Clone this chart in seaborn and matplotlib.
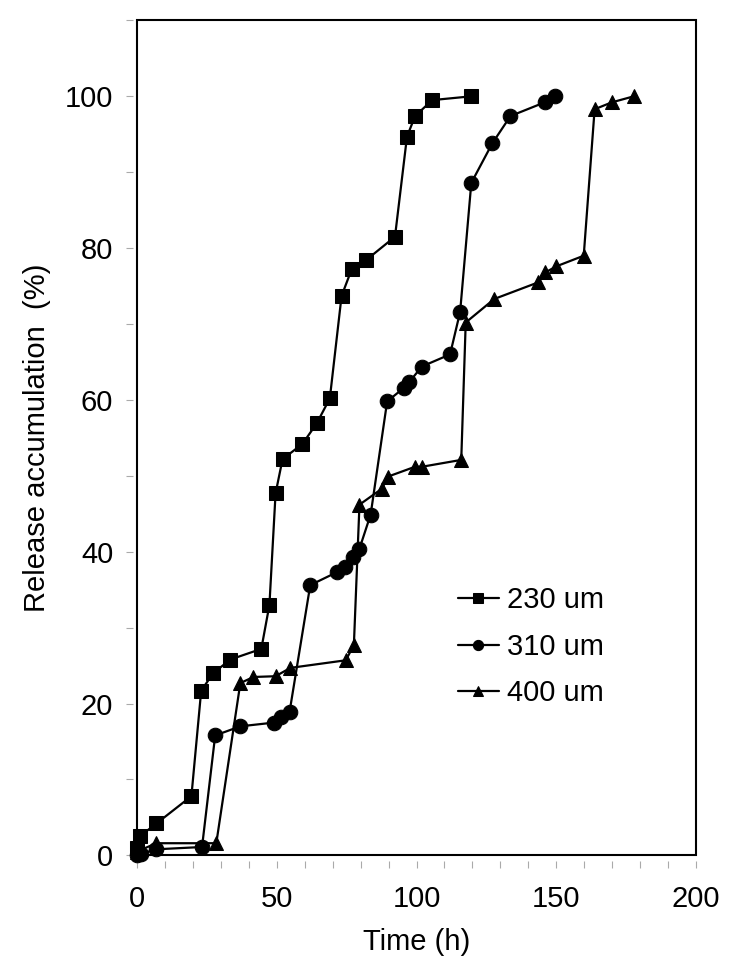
import numpy as np
import pandas as pd
import matplotlib
matplotlib.use("Agg")
import matplotlib.pyplot as plt
from matplotlib.ticker import MultipleLocator
from matplotlib.patches import Rectangle
import seaborn as sns

# Data (time in h, cumulative release in %)
t_230 = [0, 1, 7, 19.5, 23, 27.3, 33.4, 44.5, 47.4, 49.6, 52.1, 59.2, 64.3, 69,
         73.2, 76.8, 81.9, 92.3, 96.6, 99.5, 105.6, 119.6]
r_230 = [1, 2.5, 4.2, 7.8, 21.7, 24, 25.8, 27.2, 33, 47.7, 52.2, 54.2, 56.9, 60.2,
         73.7, 77.2, 78.4, 81.5, 94.7, 97.4, 99.5, 100]

t_310 = [0, 1.5, 7, 23.3, 28, 37, 49.2, 51.7, 54.6, 62, 71.5, 74.6, 77.2, 79.6,
         83.6, 89.5, 95.5, 97.3, 101.9, 112, 115.6, 119.6, 127.1, 133.6, 145.8, 149.7]
r_310 = [0, 0.2, 0.8, 1.1, 15.8, 17, 17.5, 18.2, 18.9, 35.6, 37.3, 38, 39.3, 40.4,
         44.9, 59.8, 61.6, 62.3, 64.4, 66, 71.6, 88.6, 93.8, 97.4, 99.2, 100]

t_400 = [0, 7, 28.4, 37, 41.7, 49.6, 54.9, 74.7, 77.6, 79.6, 87.6, 89.8, 99.5, 102,
         116, 117.6, 127.8, 143.6, 146.1, 150, 159.8, 163.7, 169.8, 177.7]
r_400 = [0.5, 1.6, 1.6, 22.7, 23.5, 23.6, 24.7, 25.7, 27.7, 46.2, 48.3, 49.9, 51.2, 51.2,
         52.1, 70.2, 73.3, 75.5, 76.8, 77.6, 79, 98.3, 99.2, 100]

labels = ["230 um", "310 um", "400 um"]
markers = {"230 um": "s", "310 um": "o", "400 um": "^"}

df = pd.concat([
    pd.DataFrame({"time": t_230, "release": r_230, "size": labels[0]}),
    pd.DataFrame({"time": t_310, "release": r_310, "size": labels[1]}),
    pd.DataFrame({"time": t_400, "release": r_400, "size": labels[2]}),
], ignore_index=True)

sns.set_style("white")
plt.rcParams["font.family"] = ["Liberation Sans", "DejaVu Sans"]
plt.rcParams["text.color"] = "black"
plt.rcParams["axes.labelcolor"] = "black"
plt.rcParams["xtick.labelcolor"] = "black"
plt.rcParams["ytick.labelcolor"] = "black"

fig = plt.figure(figsize=(7.32, 9.72), dpi=100)
ax = fig.add_axes([0.187, 0.120, 0.764, 0.859])

sns.lineplot(data=df, x="time", y="release", hue="size", style="size",
             markers=markers, dashes=False, palette=["black"] * 3,
             estimator=None, sort=False, linewidth=1.6, markersize=10.5,
             markeredgecolor="black", clip_on=False, ax=ax)

ax.set_xlim(0, 200)
ax.set_ylim(0, 110)
ax.xaxis.set_major_locator(MultipleLocator(50))
ax.xaxis.set_minor_locator(MultipleLocator(10))
ax.yaxis.set_major_locator(MultipleLocator(20))
ax.yaxis.set_minor_locator(MultipleLocator(10))

# box drawn separately, axis spines pushed out a little so ticks sit off the frame
for s in ax.spines.values():
    s.set_visible(False)
ax.spines["left"].set_position(("outward", 3))
ax.spines["bottom"].set_position(("outward", 4))
ax.add_patch(Rectangle((0, 0), 1, 1, transform=ax.transAxes, fill=False,
                       edgecolor="black", linewidth=1.5, clip_on=False, zorder=0))

ax.tick_params(which="both", direction="out", length=5, width=0.8,
               color="#aaaaaa", labelsize=21)
ax.tick_params(axis="y", pad=9)
ax.tick_params(axis="x", pad=12)
ax.tick_params(which="minor", labelleft=False, labelbottom=False)
ax.tick_params(left=True, bottom=True, which="both")

ax.set_xlabel("Time (h)", fontsize=21, labelpad=11)
ax.set_ylabel("Release accumulation  (%)", fontsize=21, labelpad=10)

leg = ax.legend(loc="upper left", bbox_to_anchor=(0.553, 0.336), frameon=False,
                fontsize=21, handlelength=1.4, handletextpad=0.3,
                labelspacing=0.63, markerscale=0.7, borderaxespad=0)

fig.savefig("out.png", dpi=100)
